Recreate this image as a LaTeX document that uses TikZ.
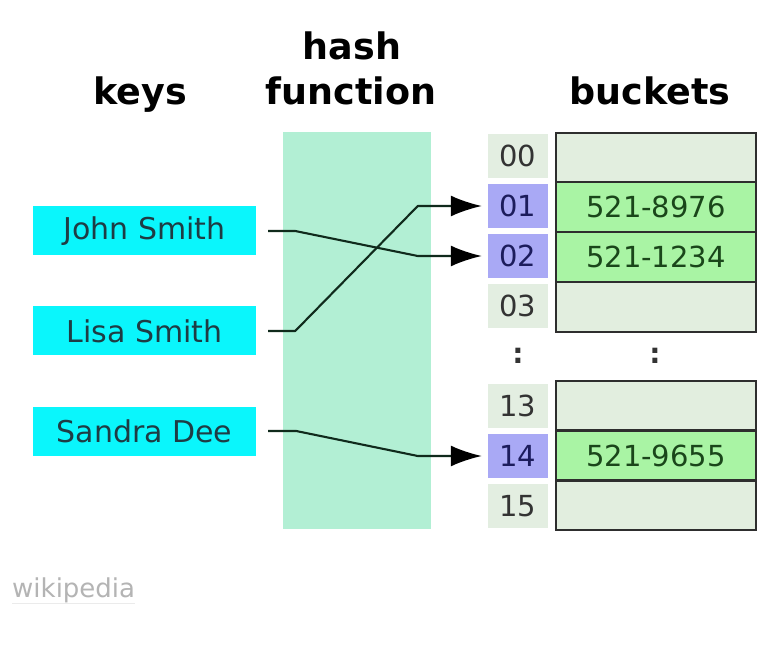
\documentclass[tikz,border=0pt]{standalone}
\usepackage{fontspec}
\setmainfont{DejaVu Sans}
\usepackage{xcolor}
\usetikzlibrary{positioning,calc,arrows.meta}

\definecolor{hashgreen}{HTML}{B2EFD4}
\definecolor{keycyan}{HTML}{0AF6FC}
\definecolor{keytext}{HTML}{1E3C44}
\definecolor{idxgray}{HTML}{E3EEE1}
\definecolor{idxblue}{HTML}{A9A9F5}
\definecolor{idxtext}{HTML}{333333}
\definecolor{idxnavy}{HTML}{1C1C5C}
\definecolor{cellgray}{HTML}{E2EEDF}
\definecolor{cellgreen}{HTML}{A9F4A4}
\definecolor{celltext}{HTML}{1A461A}
\definecolor{cellline}{HTML}{2E2E2E}
\definecolor{linkcol}{HTML}{102A1C}
\definecolor{wikigray}{HTML}{B4B4B4}

\begin{document}
\begin{tikzpicture}[x=1pt,y=-1pt,
    head/.style={font=\bfseries\fontsize{36.5}{38}\selectfont, anchor=base},
    keybox/.style={fill=keycyan, minimum width=223pt, minimum height=49pt, inner sep=0pt,
        font=\fontsize{30}{32}\selectfont, text=keytext},
    idxbox/.style={fill=idxgray, minimum width=60pt, minimum height=44pt, inner sep=0pt,
        font=\fontsize{29}{30}\selectfont, text=idxtext},
    idxhit/.style={idxbox, fill=idxblue, text=idxnavy},
    cell/.style={draw=cellline, line width=1.6pt, fill=cellgray, minimum width=200pt,
        minimum height=49.5pt, inner sep=0pt, font=\fontsize{29}{30}\selectfont, text=celltext},
    cellhit/.style={cell, fill=cellgreen},
    link/.style={draw=linkcol, line width=2.1pt, line join=round,
        -{Latex[length=31pt,width=21pt,color=black]}, shorten <=12pt, shorten >=6pt}]
    \useasboundingbox (0,0) rectangle (774,652);
    \fill[white] (0,0) rectangle (774,652);

    % Titles
    \node[head] (keys) at (140,105) {keys};
    \node[head] (hash) at (352,60) {hash};
    \node[head] (func) at (351,105) {function};
    \node[head] (buckets) at (650,105) {buckets};

    % Hash function band
    \node[fill=hashgreen, minimum width=148pt, minimum height=397pt, inner sep=0pt] (band) at (357,330.5) {};

    % Keys
    \node[keybox] (john) at (144.5,231) {John Smith};
    \node[keybox] (lisa) at (144.5,331) {Lisa Smith};
    \node[keybox] (sandra) at (144.5,431) {Sandra Dee};

    % Indices
    \foreach \n/\y/\s in {00/156/idxbox, 01/206/idxhit, 02/256/idxhit, 03/306/idxbox,
                          13/406/idxbox, 14/456/idxhit, 15/506/idxbox} {
        \node[\s] (i\n) at (518,\y) {\n};
    }

    % Buckets
    \foreach \n/\y/\s/\t in {00/157.5/cell/{}, 01/207/cellhit/521-8976, 02/257/cellhit/521-1234,
                             03/307/cell/{}, 13/405.5/cell/{}, 14/455.5/cellhit/521-9655,
                             15/505.5/cell/{}} {
        \node[\s] (b\n) at (656,\y) {\t};
    }
    \node[font=\bfseries\fontsize{28}{30}\selectfont, text=idxtext] (idots) at (518,356) {:};
    \node[font=\bfseries\fontsize{28}{30}\selectfont, text=idxtext] (bdots) at (655,356) {:};

    % Links
    \draw[link] (john.east) -- ++(39,0) -- ([xshift=-70pt]i02.west) -- (i02.west);
    \draw[link] (lisa.east) -- ++(39,0) -- ([xshift=-70pt]i01.west) -- (i01.west);
    \draw[link] (sandra.east) -- ++(40,0) -- ([xshift=-70pt]i14.west) -- (i14.west);

    % Credit
    \node[anchor=base west, inner sep=0pt, text=wikigray, font=\fontsize{26}{27}\selectfont] (wiki) at (12,597) {wikipedia};
    \draw[black!8, line width=1pt] ([yshift=-6pt]wiki.base west) -- ([yshift=-6pt]wiki.base east);
\end{tikzpicture}
\end{document}
